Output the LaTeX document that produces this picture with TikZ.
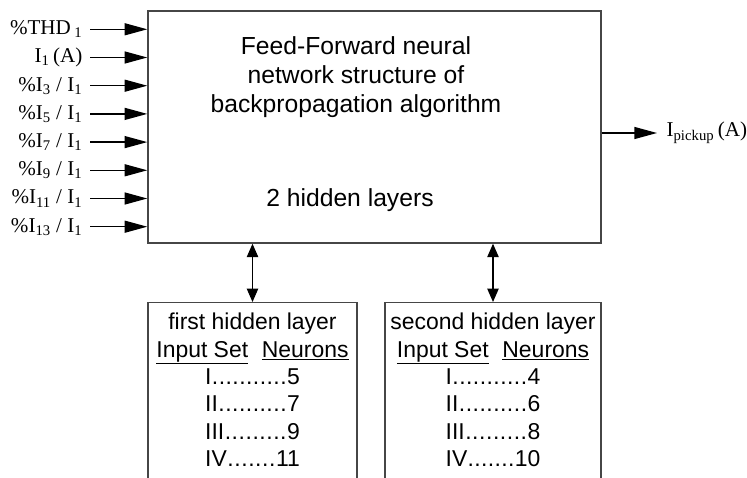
\documentclass[tikz,border=0pt]{standalone}
\usepackage{fontspec}
\setmainfont{Liberation Sans}
\newfontfamily\serifrm{Liberation Serif}
\usetikzlibrary{arrows.meta,positioning}
\definecolor{frame}{RGB}{70,70,70}

% one row of the neuron table: set name, dots, neuron count
\newcommand{\dotrow}[2]{\makebox[71pt][l]{#1\xleaders\hbox{.}\hfill#2}}

\tikzset{
  blk/.style={draw=frame,line width=1.1pt,inner sep=0pt},
  inlbl/.style={font=\serifrm\fontsize{15.8}{18}\selectfont,inner sep=1pt},
  feed/.style={-{Triangle[length=17pt,width=9pt]},line width=1pt},
  link/.style={{Triangle[length=10pt,width=8.5pt]}-{Triangle[length=10pt,width=8.5pt]},line width=0.9pt},
  tbl/.style={align=center,font=\fontsize{17.2}{20.6}\selectfont,inner sep=0pt},
}

\begin{document}
\begin{tikzpicture}[x=0.75pt,y=-0.75pt]
\useasboundingbox (0,0) rectangle (747,478);
\clip (0,0) rectangle (747,478);

% main network block
\node[blk,minimum width=339.75pt,minimum height=174pt] (ffnn) at (374.5,127) {};
\node[align=center,font=\fontsize{18.5}{22}\selectfont] (title) at (356,77)
  {Feed-Forward neural\\network structure of\\backpropagation algorithm};
\node[font=\fontsize{18.5}{22}\selectfont] (layers) at (350,200) {2 hidden layers};

% inputs
\foreach \lbl [count=\i] in {{\%THD\,\textsubscript{1}},{I\textsubscript{1}\,(A)},
    {\%I\textsubscript{3} / I\textsubscript{1}},{\%I\textsubscript{5} / I\textsubscript{1}},
    {\%I\textsubscript{7} / I\textsubscript{1}},{\%I\textsubscript{9} / I\textsubscript{1}},
    {\%I\textsubscript{11} / I\textsubscript{1}},{\%I\textsubscript{13} / I\textsubscript{1}}}{
  \node[inlbl,anchor=east] (in\i) at (84,{29.3+28.2*(\i-1)}) {\lbl};
  \draw[feed,shorten <=4.5pt] (in\i.east) -- (in\i.east -| ffnn.west);
}

% output
\node[inlbl,anchor=west] (out) at (665,133) {I\textsubscript{pickup}\,(A)};
\draw[feed,shorten >=6pt] (out.west -| ffnn.east) -- (out.west);

% hidden layer tables (open at the bottom)
\node[blk,anchor=north,minimum width=156.75pt,minimum height=160pt] (hidA) at (252.5,302) {};
\node[blk,anchor=north,minimum width=162pt,minimum height=160pt] (hidB) at (493,302) {};
\draw[link] (hidA.north |- ffnn.south) -- (hidA.north);
\draw[link] (hidB.north |- ffnn.south) -- (hidB.north);

\node[tbl,below=8pt of hidA.north] (tabA) {first hidden layer\\
  \underline{Input Set}\hspace{0.6em}\underline{Neurons}\\
  \dotrow{I}{5}\\ \dotrow{II}{7}\\ \dotrow{III}{9}\\ \dotrow{IV}{11}};
\node[tbl,below=8pt of hidB.north] (tabB) {second hidden layer\\
  \underline{Input Set}\hspace{0.6em}\underline{Neurons}\\
  \dotrow{I}{4}\\ \dotrow{II}{6}\\ \dotrow{III}{8}\\ \dotrow{IV}{10}};
\end{tikzpicture}
\end{document}
